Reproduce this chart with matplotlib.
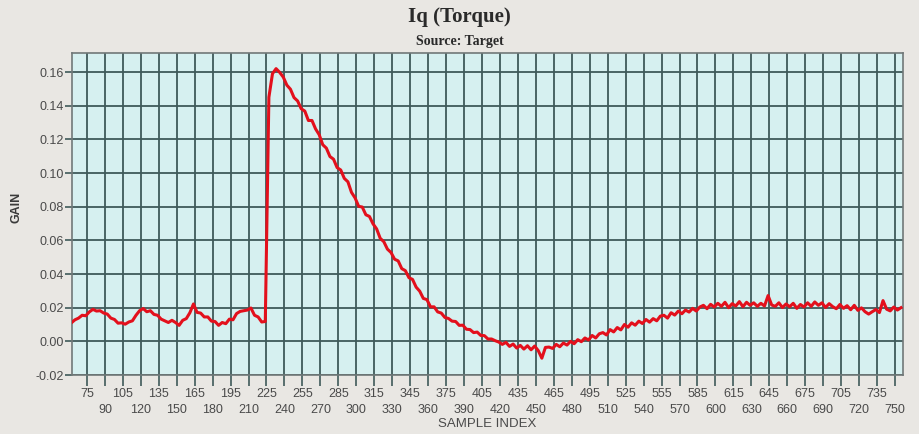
import numpy as np
import matplotlib.pyplot as plt
from matplotlib.ticker import FixedLocator, FuncFormatter

# gain readings, one every 3 samples starting at sample 62
gain = [
    0.0110, 0.0128, 0.0138, 0.0155, 0.0152, 0.0175, 0.0190, 0.0180, 0.0182, 0.0168,
    0.0162, 0.0138, 0.0130, 0.0108, 0.0110, 0.0102, 0.0115, 0.0122, 0.0155, 0.0182,
    0.0195, 0.0176, 0.0182, 0.0160, 0.0155, 0.0132, 0.0122, 0.0112, 0.0125, 0.0112,
    0.0095, 0.0125, 0.0135, 0.0170, 0.0222, 0.0172, 0.0168, 0.0145, 0.0145, 0.0120,
    0.0118, 0.0095, 0.0112, 0.0105, 0.0132, 0.0128, 0.0165, 0.0178, 0.0182, 0.0186,
    0.0198, 0.0155, 0.0145, 0.0115, 0.0118,
    0.1450, 0.1590, 0.1620, 0.1598, 0.1570, 0.1522, 0.1498, 0.1448, 0.1428, 0.1382,
    0.1368, 0.1312, 0.1312, 0.1262, 0.1228, 0.1168, 0.1148, 0.1098, 0.1082, 0.1032,
    0.1018, 0.0968, 0.0948, 0.0885, 0.0852, 0.0802, 0.0798, 0.0752, 0.0742, 0.0698,
    0.0668, 0.0612, 0.0592, 0.0548, 0.0528, 0.0488, 0.0478, 0.0432, 0.0420, 0.0378,
    0.0368, 0.0322, 0.0298, 0.0255, 0.0248, 0.0205, 0.0205, 0.0175, 0.0168, 0.0142,
    0.0136, 0.0120, 0.0118, 0.0095, 0.0096, 0.0072, 0.0070, 0.0052, 0.0055, 0.0035,
    0.0034, 0.0014, 0.0014, 0.0004, -0.0004, -0.0018, -0.0006, -0.0030, -0.0016, -0.0040,
    -0.0024, -0.0046, -0.0026, -0.0050, -0.0028, -0.0055, -0.0100, -0.0036, -0.0034, -0.0042,
    -0.0018, -0.0032, -0.0010, -0.0022, 0.0000, -0.0014, 0.0010, -0.0002, 0.0020, 0.0008,
    0.0035, 0.0020, 0.0045, 0.0052, 0.0038, 0.0070, 0.0056, 0.0082, 0.0068, 0.0100,
    0.0084, 0.0110, 0.0096, 0.0120, 0.0106, 0.0130, 0.0114, 0.0135, 0.0122, 0.0150,
    0.0155, 0.0138, 0.0170, 0.0156, 0.0180, 0.0164, 0.0186, 0.0174, 0.0196, 0.0180,
    0.0204, 0.0214, 0.0194, 0.0220, 0.0204, 0.0226, 0.0208, 0.0232, 0.0200, 0.0224,
    0.0210, 0.0236, 0.0206, 0.0232, 0.0214, 0.0229, 0.0208, 0.0226, 0.0210, 0.0272,
    0.0216, 0.0208, 0.0229, 0.0201, 0.0222, 0.0206, 0.0226, 0.0196, 0.0219, 0.0204,
    0.0229, 0.0208, 0.0234, 0.0214, 0.0229, 0.0201, 0.0224, 0.0206, 0.0194, 0.0219,
    0.0196, 0.0212, 0.0188, 0.0214, 0.0184, 0.0199, 0.0176, 0.0162, 0.0176, 0.0189,
    0.0171, 0.0242, 0.0191, 0.0181, 0.0204, 0.0186, 0.0200,
]
sample = np.arange(62, 62 + 3 * len(gain), 3)

xticks_top = list(range(75, 751, 30))      # 75, 105, ... 735
xticks_bottom = list(range(90, 751, 30))   # 90, 120, ... 750
yticks = [-0.02, 0.00, 0.02, 0.04, 0.06, 0.08, 0.10, 0.12, 0.14, 0.16]

fig = plt.figure(figsize=(9.19, 4.34), dpi=100, facecolor='#e9e7e3')
ax = fig.add_axes([0.0783, 0.1359, 0.9043, 0.742])
ax.set_facecolor('#d6f0f0')

ax.plot(sample, gain, color='#e3101c', lw=2.2, zorder=3)

ax.set_xlim(62.5, 756.7)
ax.set_ylim(-0.02, 0.1713)

ax.xaxis.set_major_locator(FixedLocator(xticks_top))
ax.xaxis.set_minor_locator(FixedLocator(xticks_bottom))
ax.xaxis.set_minor_formatter(FuncFormatter(lambda v, p: '%d' % v))
ax.set_yticks(yticks)
ax.yaxis.set_major_formatter(FuncFormatter(lambda v, p: '%.2f' % v))

gridc = '#3f5a5a'
ax.grid(True, which='both', color=gridc, lw=1.3)
ax.set_axisbelow(True)
for s in ax.spines.values():
    s.set_color('#707878')
    s.set_linewidth(1.2)

lblc = '#4a4a4a'
ax.tick_params(axis='x', which='major', length=8, width=1.2, color=gridc,
               pad=1, labelsize=9, labelcolor=lblc)
ax.tick_params(axis='x', which='minor', length=8, width=1.2, color=gridc,
               pad=13, labelsize=9, labelcolor=lblc)
ax.tick_params(axis='y', length=5, width=1.2, color=gridc, pad=1,
               labelsize=9, labelcolor=lblc)
for t in ax.get_xticklabels(which='both') + ax.get_yticklabels():
    t.set_fontfamily('Liberation Sans')

ax.set_xlabel('SAMPLE INDEX', fontsize=9.5, color=lblc, family='Liberation Sans')
ax.xaxis.set_label_coords(0.5, -0.135)
ax.set_ylabel('GAIN', fontsize=9, color='#3a3a3a', family='Liberation Sans',
              fontweight='bold')
ax.yaxis.set_label_coords(-0.059, 0.52)

fig.text(0.5, 1 - 17 / 434, 'Iq (Torque)', ha='center', va='center',
         fontsize=15, family='Liberation Serif', fontweight='bold', color='#2a2a2a')
fig.text(0.5, 1 - 42 / 434, 'Source: Target', ha='center', va='center',
         fontsize=10, family='Liberation Serif', fontweight='bold', color='#2a2a2a')

fig.savefig('out.png', dpi=100, facecolor=fig.get_facecolor())
